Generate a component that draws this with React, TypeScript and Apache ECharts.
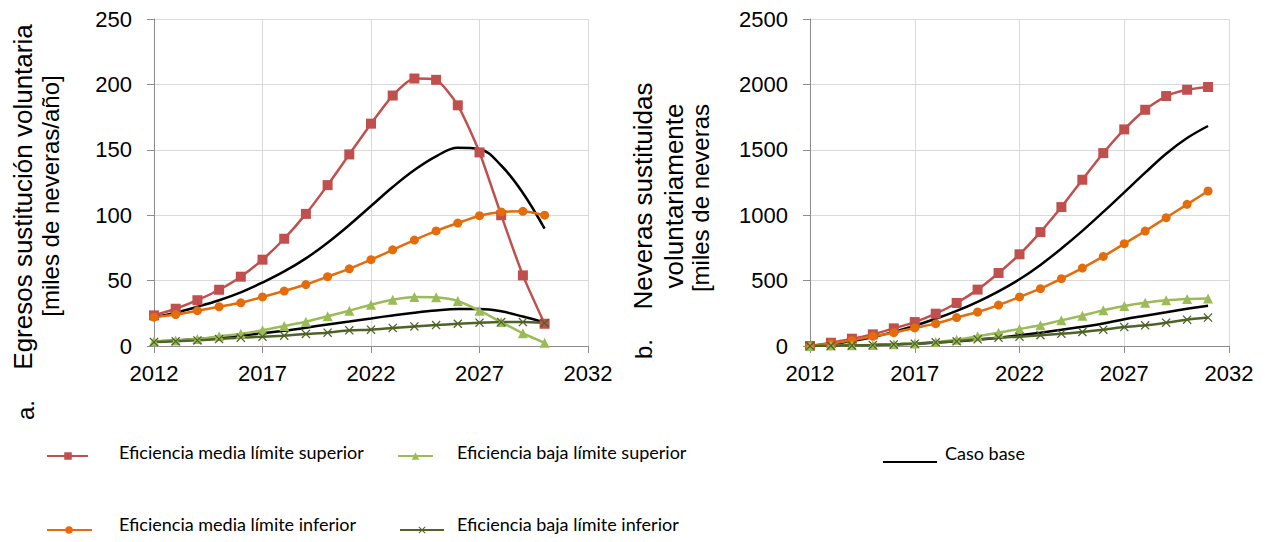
import React, { useEffect, useRef } from "react";
import * as echarts from "echarts";

const years1 = [2012, 2013, 2014, 2015, 2016, 2017, 2018, 2019, 2020, 2021, 2022, 2023, 2024, 2025, 2026, 2027, 2028, 2029, 2030];
const years2 = [2012, 2013, 2014, 2015, 2016, 2017, 2018, 2019, 2020, 2021, 2022, 2023, 2024, 2025, 2026, 2027, 2028, 2029, 2030, 2031];

// a. Egresos sustitución voluntaria [miles de neveras/año]
const mediaSup1 = [23.4, 28.5, 35, 43, 53, 66, 82, 101, 123, 146.5, 170, 191.5, 204.5, 203.5, 184, 148, 100, 54, 17];
const mediaInf1 = [22, 24, 27, 30, 33, 37.5, 42, 47, 53, 59, 66, 73.5, 81, 88, 94, 99.6, 102.5, 103, 100];
const bajaSup1 = [3.6, 4.3, 5.3, 7.4, 9.4, 12, 15.3, 18.6, 22.7, 27, 31.6, 35.4, 37.5, 37.2, 34.4, 27, 18.3, 9.7, 2.5];
const bajaInf1 = [3, 3.6, 4.3, 5.3, 6.4, 7.1, 7.9, 9.2, 10.2, 12, 12.5, 13.8, 15, 16, 17, 17.8, 18.3, 18.3, 17.6];
const casoBaseAlto1 = [22, 25.5, 30, 35, 41, 48.5, 57, 67, 79, 92.5, 107, 121.5, 134.5, 145, 151.5, 150.5, 138, 117, 89.7];
const casoBaseBajo1 = [3.6, 4.3, 5.3, 6.6, 8, 9.7, 11.7, 14, 16.5, 18.8, 21.1, 23.4, 25.5, 27.2, 28.2, 28.2, 26.5, 22.5, 18];

// b. Neveras sustituidas voluntariamente [miles de neveras]
const mediaSup2 = [0, 25, 56, 89, 135, 183, 247, 329, 431, 558, 701, 871, 1062, 1271, 1475, 1656, 1806, 1911, 1959, 1980];
const mediaInf2 = [0, 18, 43, 74, 102, 138, 171, 217, 260, 313, 375, 438, 515, 596, 685, 782, 879, 981, 1083, 1185];
const bajaSup2 = [0, 3, 5, 8, 13, 20, 31, 48, 74, 102, 130, 158, 196, 232, 273, 306, 331, 349, 359, 364];
const bajaInf2 = [0, 2, 4, 7, 12, 18, 28, 36, 51, 64, 71, 82, 94, 107, 125, 145, 158, 178, 201, 217];
const casoBaseAlto2 = [0, 15, 38, 68, 108, 155, 208, 268, 338, 418, 510, 620, 745, 880, 1025, 1175, 1325, 1470, 1590, 1682];
const casoBaseBajo2 = [0, 2, 5, 8, 12, 18, 26, 36, 48, 63, 82, 102, 124, 147, 172, 205, 232, 258, 284, 308];

const xTicks = [2012, 2017, 2022, 2027, 2032];
const yMax1 = 250;
const yStep1 = 50;
const yMax2 = 2500;
const yStep2 = 500;

const N_MEDIA_SUP = "Eficiencia media límite superior";
const N_MEDIA_INF = "Eficiencia media límite inferior";
const N_BAJA_SUP = "Eficiencia baja límite superior";
const N_BAJA_INF = "Eficiencia baja límite inferior";
const N_BASE = "Caso base";

const C_RED = "#c0504d";
const C_ORANGE = "#e46c0a";
const C_LGREEN = "#9bbb59";
const C_DGREEN = "#4f6228";
const C_BLACK = "#000000";

const X_SYMBOL = "path://M0 1L1 0L5 4L9 0L10 1L6 5L10 9L9 10L5 6L1 10L0 9L4 5Z";

const pair = (xs: number[], ys: number[]) => ys.map((v, i) => [xs[i], v]);

const AXIS_FONT = "Liberation Sans";
const plain = (v: number) => String(v);

function makeX(gridIndex: number) {
  return {
    type: "value",
    gridIndex,
    min: xTicks[0],
    max: xTicks[xTicks.length - 1],
    interval: 5,
    axisLine: { show: true, onZero: false, lineStyle: { color: "#8c8c8c", width: 1 } },
    axisTick: { show: true, length: 7, lineStyle: { color: "#8c8c8c" } },
    splitLine: { show: true, lineStyle: { color: "#d9d9d9", width: 1 } },
    axisLabel: {
      fontFamily: AXIS_FONT,
      fontSize: 22,
      color: "#000",
      margin: 16,
      showMinLabel: true,
      showMaxLabel: true,
      formatter: plain,
    },
  };
}

function makeY(gridIndex: number, max: number, step: number) {
  return {
    type: "value",
    gridIndex,
    min: 0,
    max,
    interval: step,
    axisLine: { show: true, lineStyle: { color: "#8c8c8c", width: 1 } },
    axisTick: { show: true, length: 7, lineStyle: { color: "#8c8c8c" } },
    splitLine: { show: true, lineStyle: { color: "#d9d9d9", width: 1 } },
    axisLabel: { fontFamily: AXIS_FONT, fontSize: 22, color: "#000", margin: 22, formatter: plain },
  };
}

function markSeries(name: string, xs: number[], ys: number[], idx: number, color: string, symbol: string, size: number) {
  return {
    type: "line",
    name,
    xAxisIndex: idx,
    yAxisIndex: idx,
    data: pair(xs, ys),
    symbol,
    symbolSize: size,
    showSymbol: true,
    smooth: 0.2,
    lineStyle: { color, width: 2.5 },
    itemStyle: { color, borderWidth: 0 },
    z: 3,
  };
}

function baseSeries(xs: number[], ys: number[], idx: number) {
  return {
    type: "line",
    name: N_BASE,
    xAxisIndex: idx,
    yAxisIndex: idx,
    data: pair(xs, ys),
    symbol: "none",
    showSymbol: false,
    smooth: 0.4,
    lineStyle: { color: C_BLACK, width: 2.5 },
    itemStyle: { color: C_BLACK },
    z: 2,
  };
}

// legend icon: a line plus a marker, drawn as one path in a w x h box
function iconPath(w: number, h: number, ly: number, mark: string, cx: number, s: number) {
  const f = (n: number) => n.toFixed(2);
  const parts: string[] = [];
  parts.push(`M0 0h0.01v0.01h-0.01Z`);
  parts.push(`M${f(w - 0.01)} ${f(h - 0.01)}h0.01v0.01h-0.01Z`);
  parts.push(`M0 ${f(ly - 1)}h${f(w)}v2h-${f(w)}Z`);
  const r = s / 2;
  if (mark === "rect") {
    parts.push(`M${f(cx - r)} ${f(ly - r)}h${f(s)}v${f(s)}h-${f(s)}Z`);
  } else if (mark === "circle") {
    parts.push(`M${f(cx - r)} ${f(ly)}A${f(r)} ${f(r)} 0 1 1 ${f(cx + r)} ${f(ly)}A${f(r)} ${f(r)} 0 1 1 ${f(cx - r)} ${f(ly)}Z`);
  } else if (mark === "triangle") {
    parts.push(`M${f(cx)} ${f(ly - r)}L${f(cx + r)} ${f(ly + r)}L${f(cx - r)} ${f(ly + r)}Z`);
  } else if (mark === "x") {
    const k = s / 10;
    const pts = [[0, 1], [1, 0], [5, 4], [9, 0], [10, 1], [6, 5], [10, 9], [9, 10], [5, 6], [1, 10], [0, 9], [4, 5]];
    parts.push(
      pts.map((p, i) => `${i === 0 ? "M" : "L"}${f(cx - r + p[0] * k)} ${f(ly - r + p[1] * k)}`).join("") + "Z"
    );
  }
  return "path://" + parts.join(" ");
}

const LEG_FONT = { fontFamily: "Lato", fontSize: 18, color: "#000" };

function legendItem(name: string, left: number, top: number, w: number, h: number, padLeft: number, icon: string) {
  return {
    show: true,
    left,
    top,
    padding: 0,
    itemWidth: w,
    itemHeight: h,
    symbolKeepAspect: false,
    data: [{ name, icon }],
    selectedMode: false,
    textStyle: { ...LEG_FONT, padding: [0, 0, 0, padLeft] },
  };
}

function rotText(text: string, x: number, y: number, size: number) {
  return {
    type: "text",
    x,
    y,
    rotation: Math.PI / 2,
    style: {
      text,
      fontFamily: AXIS_FONT,
      fontSize: size,
      fill: "#000",
      align: "center",
      verticalAlign: "middle",
    },
  };
}

export default function App() {
  const ref = useRef<HTMLDivElement>(null);
  useEffect(() => {
    if (!ref.current) return;
    const chart = echarts.init(ref.current, undefined, { renderer: "svg" });
    chart.setOption({
      animation: false,
      backgroundColor: "#ffffff",
      grid: [
        { left: 154, right: 683, top: 19, bottom: 196, containLabel: false },
        { left: 810, right: 42, top: 19, bottom: 196, containLabel: false },
      ],
      xAxis: [makeX(0), makeX(1)],
      yAxis: [makeY(0, yMax1, yStep1), makeY(1, yMax2, yStep2)],
      legend: [
        legendItem(N_MEDIA_SUP, 47, 442, 41, 20, 26, iconPath(41, 20, 14, "rect", 21, 7.5)),
        legendItem(N_BAJA_SUP, 398, 442, 35, 20, 19, iconPath(35, 20, 14, "triangle", 17.5, 7.5)),
        legendItem(N_BASE, 883, 443, 54, 20, 3, "path://M0 0h0.01v0.01h-0.01z M0 18h54v2h-54z"),
        legendItem(N_MEDIA_INF, 47, 514, 45, 20, 22, iconPath(45, 20, 16, "circle", 22, 7.5)),
        legendItem(N_BAJA_INF, 400, 514, 44, 20, 8, iconPath(44, 20, 16, "x", 22, 7)),
      ],
      graphic: [
        rotText("Egresos sustitución voluntaria", 23, 197, 26),
        rotText("[miles de neveras/año]", 50, 196, 24),
        rotText("a.", 25, 410, 24),
        rotText("Neveras sustituidas", 643, 196, 26),
        rotText("voluntariamente", 674, 196, 26),
        rotText("[miles de neveras", 700, 198, 24),
        rotText("b.", 643, 349, 24),
      ],
      series: [
        baseSeries(years1, casoBaseAlto1, 0),
        baseSeries(years1, casoBaseBajo1, 0),
        markSeries(N_MEDIA_SUP, years1, mediaSup1, 0, C_RED, "rect", 10),
        markSeries(N_MEDIA_INF, years1, mediaInf1, 0, C_ORANGE, "circle", 9),
        markSeries(N_BAJA_SUP, years1, bajaSup1, 0, C_LGREEN, "triangle", 10),
        markSeries(N_BAJA_INF, years1, bajaInf1, 0, C_DGREEN, X_SYMBOL, 9),
        baseSeries(years2, casoBaseAlto2, 1),
        baseSeries(years2, casoBaseBajo2, 1),
        markSeries(N_MEDIA_SUP, years2, mediaSup2, 1, C_RED, "rect", 10),
        markSeries(N_MEDIA_INF, years2, mediaInf2, 1, C_ORANGE, "circle", 9),
        markSeries(N_BAJA_SUP, years2, bajaSup2, 1, C_LGREEN, "triangle", 10),
        markSeries(N_BAJA_INF, years2, bajaInf2, 1, C_DGREEN, X_SYMBOL, 9),
      ],
    });
    return () => chart.dispose();
  }, []);
  return (
    <div
      ref={ref}
      style={{ position: "fixed", left: 0, top: 0, width: 1271, height: 542, background: "#fff" }}
    />
  );
}
